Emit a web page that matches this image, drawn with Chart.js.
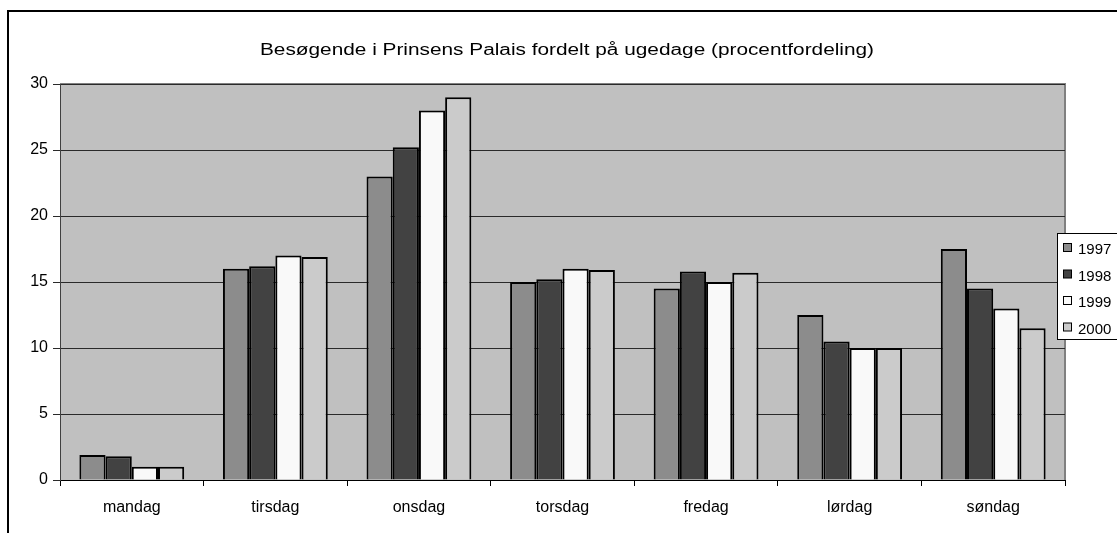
<!DOCTYPE html>
<html>
<head>
<meta charset="utf-8">
<script src="https://cdn.jsdelivr.net/npm/chart.js@4/dist/chart.umd.min.js"></script>
<style>
  html, body { margin: 0; padding: 0; background: #fff; }
  #wrap { width: 1117px; height: 533px; position: relative; }
</style>
</head>
<body>
<div id="wrap"><canvas id="c" width="1117" height="533"></canvas></div>
<script>
const days = ['mandag', 'tirsdag', 'onsdag', 'torsdag', 'fredag', 'lørdag', 'søndag'];
const years = ['1997', '1998', '1999', '2000'];
const v1997 = [1.9, 16, 23, 15, 14.5, 12.5, 17.5];
const v1998 = [1.8, 16.2, 25.2, 15.2, 15.8, 10.5, 14.5];
const v1999 = [1, 17, 28, 16, 15, 10, 13];
const v2000 = [1, 16.9, 29, 15.9, 15.7, 10, 11.5];
const colors = ['#8c8c8c', '#424242', '#f9f9f9', '#cbcbcb'];
const titleText = 'Besøgende i Prinsens Palais fordelt på ugedage (procentfordeling)';

const font = '"Liberation Sans", Arial, sans-serif';

// frame, plot background, title (a bit wide like the original) and legend box
const frame = {
    id: 'frame',
    beforeDraw(chart) {
        const ctx = chart.ctx, a = chart.chartArea;
        ctx.save();
        ctx.fillStyle = '#fff';
        ctx.fillRect(0, 0, chart.width, chart.height);
        ctx.strokeStyle = '#000';
        ctx.lineWidth = 2;
        ctx.strokeRect(8, 11, chart.width + 20, chart.height + 20);
        ctx.fillStyle = '#c0c0c0';
        ctx.fillRect(a.left, a.top, a.right - a.left, a.bottom - a.top);
        ctx.strokeStyle = '#808080';
        ctx.lineWidth = 2;
        ctx.beginPath();
        ctx.moveTo(a.left, a.top);
        ctx.lineTo(a.right, a.top);
        ctx.lineTo(a.right, a.bottom);
        ctx.stroke();

        ctx.font = '16px ' + font;
        ctx.fillStyle = '#000';
        ctx.textAlign = 'center';
        ctx.textBaseline = 'alphabetic';
        const w = ctx.measureText(titleText).width;
        ctx.translate(567, 55);
        ctx.scale(614 / w, 1);
        ctx.fillText(titleText, 0, 0);
        ctx.restore();
    },
    afterDraw(chart) {
        const ctx = chart.ctx;
        ctx.save();
        ctx.fillStyle = '#fff';
        ctx.fillRect(1057, 233, 80, 106);
        ctx.strokeStyle = '#000';
        ctx.lineWidth = 1;
        ctx.strokeRect(1057.5, 233.5, 80, 106);
        ctx.font = '15px ' + font;
        ctx.textBaseline = 'middle';
        chart.data.datasets.forEach((ds, i) => {
            const y = 248 + i * 26.5;
            ctx.fillStyle = ds.backgroundColor;
            ctx.fillRect(1063.5, y - 4.5, 8, 8);
            ctx.strokeRect(1063.5, y - 4.5, 8, 8);
            ctx.fillStyle = '#000';
            ctx.fillText(ds.label, 1078, y + 2);
        });
        ctx.restore();
    }
};

new Chart(document.getElementById('c'), {
    type: 'bar',
    data: {
        labels: days,
        datasets: [
            { label: years[0], data: v1997, backgroundColor: colors[0] },
            { label: years[1], data: v1998, backgroundColor: colors[1] },
            { label: years[2], data: v1999, backgroundColor: colors[2] },
            { label: years[3], data: v2000, backgroundColor: colors[3] }
        ]
    },
    options: {
        responsive: false,
        animation: false,
        layout: { padding: { left: 0, right: 52, top: 84, bottom: 18 } },
        datasets: {
            bar: {
                borderColor: '#000',
                borderWidth: 2,
                borderSkipped: 'start',
                categoryPercentage: 0.73,
                barPercentage: 1
            }
        },
        plugins: {
            legend: { display: false },
            tooltip: { enabled: false },
            title: { display: false }
        },
        scales: {
            x: {
                grid: { offset: true, drawOnChartArea: false, color: '#000', tickLength: 6 },
                border: { color: '#000', width: 1 },
                ticks: { color: '#000', font: { family: font, size: 16 }, padding: 12 },
                afterFit(s) { s.height = 35; }
            },
            y: {
                min: 0,
                max: 30,
                ticks: { stepSize: 5, color: '#000', font: { family: font, size: 16 }, padding: 5 },
                grid: { color: '#2a2a2a', tickLength: 7 },
                border: { color: '#404040', width: 1 },
                afterFit(s) { s.width = 60; }
            }
        }
    },
    plugins: [frame]
});
</script>
</body>
</html>
